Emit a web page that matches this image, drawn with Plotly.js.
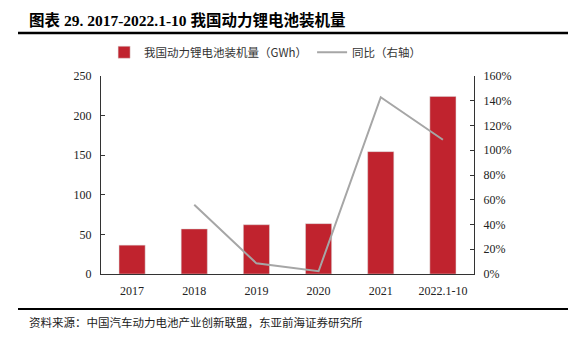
<!DOCTYPE html>
<html><head><meta charset="utf-8">
<script src="https://cdn.plot.ly/plotly-3.0.1.min.js"></script>
<style>body{margin:0;background:#fff}#c{width:568px;height:345px}</style>
</head><body><div id="c"></div>
<script>
const categories = ['2017','2018','2019','2020','2021','2022.1-10'];
const installed = [36.4, 56.9, 62.2, 63.6, 154.5, 224.2];
const yoyCats = ['2018','2019','2020','2021','2022.1-10'];
const yoy = [56, 8.6, 2.2, 142.8, 108.5];
const yTicks = [0,50,100,150,200,250];
const y2Ticks = [0,20,40,60,80,100,120,140,160];

const serif = 'Liberation Serif, "Noto Sans CJK SC", serif';
const cjk = '"Noto Sans CJK SC", sans-serif';

const traces = [
  {type:'bar', x:categories, y:installed, name:'我国动力锂电池装机量（GWh）',
   marker:{color:'#C0232E', line:{color:'#d9d9d9', width:0.5}}, width:0.42},
  {type:'scatter', mode:'lines', x:yoyCats, y:yoy, name:'同比（右轴）', yaxis:'y2',
   line:{color:'#A6A6A6', width:2}}
];
const layout = {
  width:568, height:345, margin:{l:101, r:94, t:76, b:71},
  paper_bgcolor:'#fff', plot_bgcolor:'#fff', showlegend:true,
  legend:{orientation:'h', x:0.44, xanchor:'center', y:1.12, yanchor:'middle',
    font:{family:cjk, size:11.5, color:'#333'}},
  xaxis:{type:'category', showline:true, linecolor:'#333', linewidth:1, ticks:'',
    ticklabelstandoff:6,
    tickfont:{family:serif, size:12, color:'#222'}, fixedrange:true},
  yaxis:{range:[0,250], tickvals:yTicks, showgrid:false, showline:true, linecolor:'#333',
    ticks:'inside', ticklen:4, tickcolor:'#333', zeroline:false, ticklabelstandoff:6,
    tickfont:{family:serif, size:12, color:'#222'}},
  yaxis2:{overlaying:'y', side:'right', range:[0,160], tickvals:y2Ticks,
    ticktext:y2Ticks.map(v=>v+'%'), showgrid:false, showline:true, linecolor:'#333',
    ticks:'inside', ticklen:4, tickcolor:'#333', zeroline:false, ticklabelstandoff:6,
    tickfont:{family:serif, size:12, color:'#222'}},
  bargap:0.58,
  shapes:[
    {type:'line', xref:'paper', yref:'paper', x0:-0.2225, x1:1.26, y0:1.217, y1:1.217, line:{color:'#000', width:2.5}},
    {type:'line', xref:'paper', yref:'paper', x0:-0.2225, x1:1.26, y0:-0.177, y1:-0.177, line:{color:'#000', width:2}}
  ],
  annotations:[
    {xref:'paper', yref:'paper', x:-0.198, y:1.278, xanchor:'left', yanchor:'middle', showarrow:false,
     text:'<b>图表 29. 2017-2022.1-10 我国动力锂电池装机量</b>', font:{family:serif, size:15.5, color:'#000'}},
    {xref:'paper', yref:'paper', x:-0.198, y:-0.243, xanchor:'left', yanchor:'middle', showarrow:false,
     text:'资料来源：中国汽车动力电池产业创新联盟，东亚前海证券研究所', font:{family:cjk, size:11.5, color:'#222'}}
  ]
};
Plotly.newPlot('c', traces, layout, {staticPlot:true});
</script></body></html>
